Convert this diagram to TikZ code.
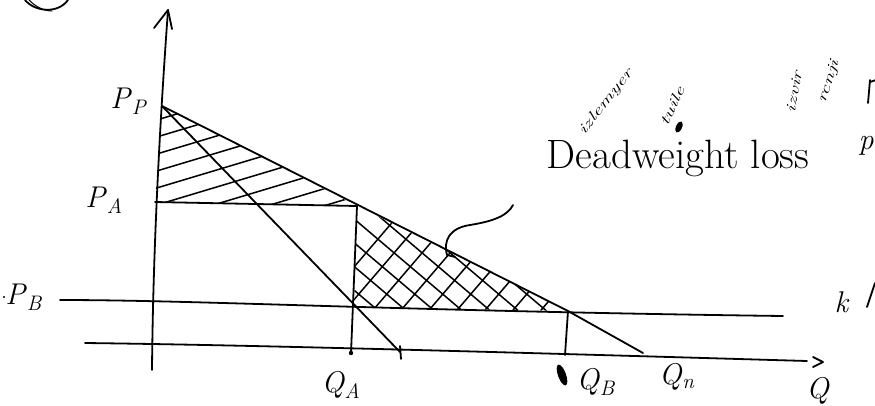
\documentclass[tikz,border=0pt]{standalone}
\usepackage{fontspec}
\newcommand\mylab[2]{\textit{#1}\textsubscript{\textit{#2}}}
\begin{document}
\begin{tikzpicture}[x=1pt,y=-1pt, line cap=round, line join=round,
  ink/.style={line width=1.8pt},
  hatchline/.style={line width=1.5pt},
  lbl/.style={inner sep=0pt, font=\fontsize{30}{32}\selectfont},
  scrib/.style={inner sep=0pt, font=\fontsize{14}{15}\selectfont\itshape}]
\useasboundingbox (0,0) rectangle (875,405);
% key points
\coordinate (Otop) at (168,10);
\coordinate (Obot) at (152,370);
\coordinate (PP) at (162,106);
\coordinate (PAl) at (155,202);
\coordinate (A) at (357,206);
\coordinate (QAm) at (354,307);
\coordinate (QA) at (351,353);
\coordinate (Bl) at (60,300);
\coordinate (Br) at (783,316);
\coordinate (E) at (568,311);
\coordinate (QB) at (565,355);
\coordinate (Qn) at (643,353);
\coordinate (Xl) at (85,343);
\coordinate (Xr) at (807,361);
\coordinate (S) at (400,352);
\coordinate (Lstart) at (447,255);
\coordinate (Lend) at (513,205);
% hatching of the upper region
\begin{scope}
  \clip (PP) -- (A) -- (PAl) -- cycle;
  \foreach \y in {122,139,...,290}
    \draw[hatchline] (150,\y) -- (400,\y-75);
\end{scope}
% cross hatching of deadweight loss
\begin{scope}
  \clip (A) -- (QAm) -- (E) -- cycle;
  \foreach \x in {300,328,...,700}
    \draw[hatchline] (\x,330) -- (\x+120,190);
  \foreach \x in {180,208,...,600}
    \draw[hatchline] (\x,190) -- (\x+165,330);
\end{scope}
% axes
\draw[ink] (Obot) .. controls (153,250) and (160,120) .. (Otop);
\draw[ink] (154,28) -- (Otop) -- (172,29);
\draw[ink] (Xl) .. controls (250,345) and (500,352) .. (Xr);
\draw[ink] (813,357) -- (823,362) -- (813,367);
% price line P_B
\draw[ink] (Bl) .. controls (200,300) and (400,311) .. (Br);
% demand and steep line
\draw[ink] (PP) -- (E) -- (Qn);
\draw[ink] (PP) -- (S);
\draw[ink] (400,346) -- (401,359);
% P_A and verticals
\draw[ink] (PAl) -- (A);
\draw[ink] (A) -- (QA);
\fill (QA) circle (2.2);
\draw[ink] (E) -- (QB);
% leader
\draw[ink] (455,257) -- (Lstart) .. controls (443,240) and (450,228) .. (470,225)
  .. controls (495,221) and (508,215) .. (Lend);
% labels
\node[lbl] (lPP) at (129,101) {\mylab{P}{P}};
\node[lbl] (lPA) at (104,200) {\mylab{P}{A}};
\fill (4,297) circle (1.2);
\node[lbl] (lPB) at (24,297) {\mylab{P}{B}};
\node[lbl] (lQA) at (341,385) {\mylab{Q}{A}};
\fill[rotate around={20:(562,375)}] (562,375) ellipse (4 and 11);
\node[lbl] (lQB) at (596,382) {\mylab{Q}{B}};
\node[lbl] (lQn) at (677,377) {\mylab{Q}{n}};
\node[lbl] (lQ) at (818,391) {\textit{Q}};
\node[inner sep=0pt, font=\fontsize{41}{43}\selectfont] (dwl) at (678,158) {Deadweight loss};
\node[lbl] (lk) at (842,302) {\textit{k}};
\draw[ink] (875,283) -- (867,307);
% right edge marks
\node[lbl] (lrho) at (866,146) {\textit{p}};
\draw[ink] (870,80) -- (868,103);
\draw[ink] (870,82) -- (876,80);
% scribbles
\node[scrib, rotate=52, xscale=1.6] (s1) at (606,102) {izlemyer};
\node[scrib, rotate=65, xscale=1.6] (s2) at (672,106) {tuile};
\fill[rotate around={65:(679,127)}] (679,127) ellipse (6 and 3);
\node[scrib, rotate=80, xscale=1.6] (s3) at (794,92) {izvir};
\node[scrib, rotate=72, xscale=1.6] (s4) at (829,82) {rcnji};
% top-left arc
\draw[ink] (25,0) .. controls (35,12) and (58,14) .. (68,0);
\draw[line width=1pt] (29,0) .. controls (37,8) and (45,11) .. (52,11);
\end{tikzpicture}
\end{document}
